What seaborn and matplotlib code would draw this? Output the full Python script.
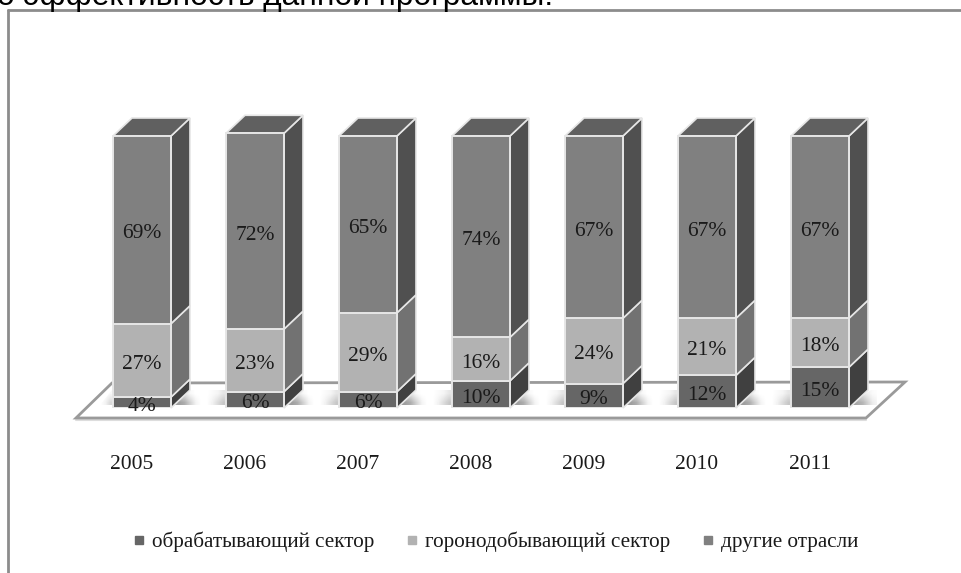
import numpy as np
import pandas as pd
import seaborn as sns
import matplotlib.pyplot as plt
from matplotlib.lines import Line2D
from matplotlib.patches import Polygon
from matplotlib.transforms import ScaledTranslation

years = ['2005', '2006', '2007', '2008', '2009', '2010', '2011']
manufacturing = [4, 6, 6, 10, 9, 12, 15]
mining = [27, 23, 29, 16, 24, 21, 18]
other = [69, 72, 65, 74, 67, 67, 67]
series_names = ['обрабатывающий сектор', 'горонодобывающий сектор', 'другие отрасли']

front_colors = ['#666666', '#b2b2b2', '#808080']
side_colors = ['#404040', '#727272', '#505050']
top_color = '#606060'
edge_color = '#e6e6e6'

sns.set_theme(style='white')
plt.rcParams['font.family'] = ['Liberation Serif', 'DejaVu Sans']

W, H = 961, 573
PX_X = 113.0   # пикселей на категорию
PX_Y = 2.72    # пикселей на процент
BASE = 408

fig = plt.figure(figsize=(W / 100, H / 100), dpi=100)
# оси: 85.5..876.5 пикс. по x, от 408 вверх до 100 пикс. по y
ax = fig.add_axes([85.5 / W, 1 - BASE / H, 791 / W, (BASE - 100) / H])

df = pd.DataFrame({'year': years, 'a': manufacturing, 'b': mining, 'c': other})
bottom = np.zeros(len(years))
tops = []
for col, c in zip(['a', 'b', 'c'], front_colors):
    sns.barplot(data=df, x='year', y=col, bottom=bottom, color=c, saturation=1, width=58 / PX_X,
                edgecolor=edge_color, linewidth=1.4, zorder=3, ax=ax)
    tops.append(bottom.copy())
    bottom = bottom + df[col].values

ax.set_xlabel('')
ax.set_ylabel('')
ax.set_yticks([])
ax.patch.set_alpha(0)
sns.despine(ax=ax, left=True, bottom=True)


def px_x(p):
    return (p - 142) / PX_X


def px_y(p):
    return (BASE - p) / PX_Y


dx, dy = 19 / PX_X, 18 / PX_Y
half = 29 / PX_X

# боковые и верхние грани
for i in range(len(years)):
    right = i + half
    for j, col in enumerate(['a', 'b', 'c']):
        y0 = tops[j][i]
        y1 = y0 + df[col][i]
        ax.add_patch(Polygon([(right, y0), (right + dx, y0 + dy), (right + dx, y1 + dy), (right, y1)],
                             fc=side_colors[j], ec=edge_color, lw=1.2, zorder=2.5, clip_on=False))
    ax.add_patch(Polygon([(i - half, bottom[i]), (right, bottom[i]), (right + dx, bottom[i] + dy),
                          (i - half + dx, bottom[i] + dy)],
                         fc=top_color, ec=edge_color, lw=1.2, zorder=2.6, clip_on=False))

# подложка
floor = [(76, 418), (112, 383), (905, 382), (866, 418)]
ax.add_patch(Polygon([(px_x(a), px_y(b)) for a, b in floor], fc='white', ec='#9a9a9a', lw=2,
                     zorder=0.5, clip_on=False, joinstyle='miter'))
ax.plot([px_x(76), px_x(866)], [px_y(420), px_y(420)], color='#dddddd', lw=1.5, zorder=0.4, clip_on=False)


def shadow(left, right, shape, grad):
    im = ax.imshow(grad, cmap='gray', vmin=0, vmax=1, aspect='auto', interpolation='bilinear',
                   extent=(px_x(left), px_x(right), px_y(407), px_y(389)), zorder=1, clip_on=True)
    clip = Polygon([(px_x(a), px_y(b)) for a, b in shape], transform=ax.transData, fc='none', ec='none')
    ax.add_patch(clip)
    im.set_clip_path(clip)


# тени между столбцами
between = np.array([[0.86, 0.86, 0.9, 0.97, 1.0, 1.0, 1.0, 0.98, 0.96, 0.9],
                    [0.62, 0.62, 0.68, 0.82, 0.95, 1.0, 1.0, 0.95, 0.86, 0.78]])
for i in range(len(years) - 1):
    x0 = 171 + PX_X * i
    x1 = x0 + 55
    shadow(x0, x1, [(x0, 405), (x0 + 21, 390), (x1, 390), (x1, 405)], between)
shadow(98, 113, [(100, 405), (112, 390), (113, 390), (113, 405)],
       np.array([[1.0, 1.0, 0.97], [1.0, 0.95, 0.85]]))
shadow(849, 895, [(849, 405), (871, 390), (893, 390), (877, 405)],
       np.array([[0.86, 0.9, 0.98, 1.0, 1.0], [0.62, 0.72, 0.92, 1.0, 1.0]]))

ax.set_xlim(-0.5, 6.5)
ax.set_ylim(0, (BASE - 100) / PX_Y)

# подписи значений
for j, col in enumerate(['a', 'b', 'c']):
    for i, v in enumerate(df[col]):
        ax.text(i, tops[j][i] + v / 2 - 4 / PX_Y, f'{v}%', ha='center', va='center', fontsize=15.5,
                color='#1a1a1a', zorder=6)

# подписи категорий
ax.tick_params(axis='x', length=0, pad=33.5, labelsize=15.5, colors='#1a1a1a')
shift = ScaledTranslation(-10 / 100, 0, fig.dpi_scale_trans)
for lab in ax.get_xticklabels():
    lab.set_transform(lab.get_transform() + shift)

# легенда
handles = [Line2D([], [], ls='none', marker='s', ms=6, mfc=c, mec=c) for c in front_colors]
fig.legend(handles, series_names, loc='center', bbox_to_anchor=(496 / W, 1 - 542 / H), ncol=3, frameon=False,
           fontsize=15.2, handlelength=0.5, handletextpad=0.4, columnspacing=1.5, labelcolor='#1a1a1a',
           borderpad=0, borderaxespad=0)

# рамка и обрезанная строка текста сверху
frame_c = '#8c8c8c'
fig.add_artist(Line2D([7.5 / W, 7.5 / W], [0, 1 - 10 / H], color=frame_c, lw=2))
fig.add_artist(Line2D([7.5 / W, 1], [1 - 10 / H, 1 - 10 / H], color=frame_c, lw=2))
fig.text(-3 / W, 1 - 5 / H, 'о эффективность данной программы.', family=['Liberation Sans', 'DejaVu Sans'],
         fontsize=22.8, color='black', ha='left', va='baseline')

fig.savefig('out.png', dpi=100)
